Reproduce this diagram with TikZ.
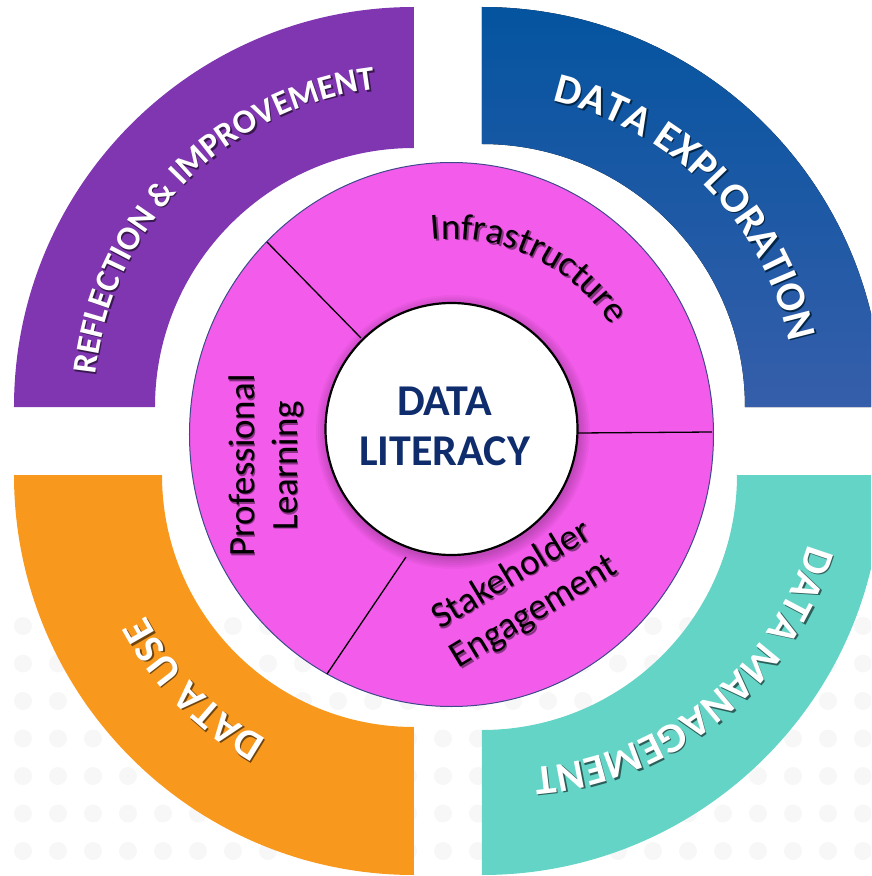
\documentclass[tikz,border=0pt]{standalone}
\usepackage{fontspec}
\setmainfont{Carlito}
\usetikzlibrary{decorations.text}

\definecolor{purp}{RGB}{127,54,176}
\definecolor{bluetop}{RGB}{4,84,160}
\definecolor{bluebot}{RGB}{54,94,170}
\definecolor{orng}{RGB}{248,152,28}
\definecolor{aqua}{RGB}{100,212,199}
\definecolor{pinkdisc}{RGB}{243,92,235}
\definecolor{rim}{RGB}{64,72,140}
\definecolor{navy}{RGB}{15,44,108}

\newcommand{\bigfont}{\fontsize{42}{48}\selectfont\bfseries}
\newcommand{\midfont}{\fontsize{34}{40}\selectfont\bfseries}
\newcommand{\pinkfont}{\fontsize{37}{43}\selectfont}
\newcommand{\litfont}{\fontsize{44}{50}\selectfont\bfseries}

\begin{document}
\begin{tikzpicture}[x=1pt, y=1pt,
    ringtext/.style 2 args={decorate, decoration={text along path, text align=center, text color=#2, text={#1}}},
    divider/.style={line width=1.3pt},
    inner/.style={font=\pinkfont, align=center, inner sep=0pt},
    innershadow/.style={inner, text=pinkdisc!55!black}]
    \useasboundingbox (-448,-435) rectangle (423,441);
    \clip (-448,-435) rectangle (423,441);

    \foreach \row in {0,...,6}
        \foreach \col in {0,...,24}
            \fill[black!3] (-425+35*\col, -185-37.5*\row) circle [radius=9];

    \fill[purp, shift={(-34,34)}] (90:259) -- (90:400) arc (90:180:400) -- (180:259) arc (180:90:259) -- cycle;
    \fill[top color=bluetop, bottom color=bluebot, shift={(34,34)}] (0:263) -- (0:400) arc (0:90:400) -- (90:263) arc (90:0:263) -- cycle;
    \fill[orng, shift={(-34,-34)}] (180:252) -- (180:400) arc (180:270:400) -- (270:252) arc (270:180:252) -- cycle;
    \fill[aqua, shift={(34,-34)}] (270:255) -- (270:400) arc (270:360:400) -- (0:255) arc (360:270:255) -- cycle;

    \path[ringtext={|\midfont|REFLECTION {\&} IMPROVEMENT}{purp!45!black}, shift={(-32.5,32.5)}] (180:320) arc (180:91:320);
    \path[ringtext={|\midfont|REFLECTION {\&} IMPROVEMENT}{white}, shift={(-34,34)}] (180:320) arc (180:91:320);
    \path[ringtext={|\bigfont|DATA EXPLORATION}{bluetop!45!black}, shift={(35.5,32.5)}] (89:314) arc (89:0:314);
    \path[ringtext={|\bigfont|DATA EXPLORATION}{white}, shift={(34,34)}] (89:314) arc (89:0:314);
    \path[ringtext={|\bigfont|DATA USE}{orng!45!black}, shift={(-32.5,-35.5)}] (270:303) arc (270:178.6:303);
    \path[ringtext={|\bigfont|DATA USE}{white}, shift={(-34,-34)}] (270:303) arc (270:178.6:303);
    \path[ringtext={|\bigfont|DATA MANAGEMENT}{aqua!45!black}, shift={(62.2,-16.9)}] (-5.9:312) arc (-5.9:-95.8:312);
    \path[ringtext={|\bigfont|DATA MANAGEMENT}{white}, shift={(60.7,-15.4)}] (-5.9:312) arc (-5.9:-95.8:312);

    \draw[rim, fill=pinkdisc, line width=1pt] (3.5,6.5) ellipse [x radius=262, y radius=272];
    \draw[divider] (-87,103) -- (-181,199);
    \draw[divider] (130,8) -- (264,9);
    \draw[divider] (-42,-116) -- (-121,-233);
    \foreach \r in {0,...,5}
        \fill[black, opacity=0.035] (5,9) circle [radius=127+2*\r];
    \draw[line width=2.2pt, fill=white] (3.5,12) circle [radius=126];

    \path[ringtext={|\pinkfont|Infrastructure}{pinkdisc!55!black}, shift={(5,10.5)}] (150:190) arc (150:-21:190);
    \path[ringtext={|\pinkfont|Infrastructure}{black}, shift={(3.5,12)}] (150:190) arc (150:-21:190);

    \node[innershadow, rotate=90] (prof shadow) at (-180.5,-26) {Professional\\Learning};
    \node[inner, rotate=90] (prof) at (-182,-24.5) {Professional\\Learning};
    \node[innershadow, rotate=31] (stake shadow) at (76.5,-154.5) {Stakeholder\\Engagement};
    \node[inner, rotate=31] (stake) at (75,-153) {Stakeholder\\Engagement};
    \node[font=\litfont, text=navy, align=center, inner sep=0pt] (lit) at (-3.5,15) {DATA\\LITERACY};
\end{tikzpicture}
\end{document}
